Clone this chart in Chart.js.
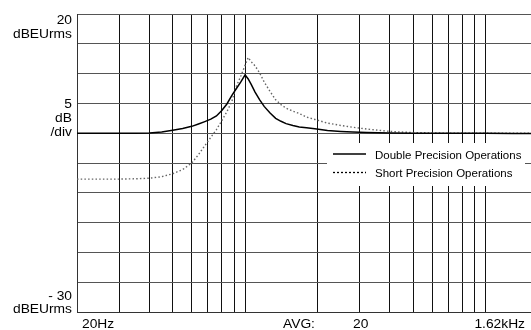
<!DOCTYPE html>
<html lang="en">
<head>
    <meta charset="UTF-8">
    <title>Double vs Short Precision Operations</title>
    <script src="https://cdn.jsdelivr.net/npm/chart.js"></script>
    <style>
        html, body {
            margin: 0;
            padding: 0;
            background: #fff;
            overflow: hidden;
        }
        #chart {
            display: block;
        }
    </style>
</head>
<body>
<canvas id="chart" width="536" height="330"></canvas>

<script>
    // frequency points (Hz) and levels (dBEUrms)
    const freqs = [20, 25, 30, 35, 40, 45, 50, 55, 60, 64, 68, 72, 76, 80, 84, 88, 92, 96, 100, 103,
        106, 110, 115, 120, 127, 134, 141, 148, 158, 168, 180, 195, 220, 250, 280, 320, 400, 500, 700, 1000, 1300, 1620];
    const doublePrec = [0, 0, 0, 0, 0.05, 0.2, 0.5, 0.8, 1.15, 1.55, 1.95, 2.35, 2.9, 3.8, 4.9, 6.3, 7.5, 8.6, 9.8, 9.1,
        8.2, 6.9, 5.6, 4.5, 3.4, 2.5, 2.0, 1.6, 1.3, 1.05, 0.9, 0.75, 0.45, 0.3, 0.2, 0.12, 0.05, 0, 0, 0, -0.05, -0.05];
    const shortPrec = [-7.7, -7.7, -7.7, -7.65, -7.55, -7.3, -6.8, -6.1, -5.0, -3.6, -2.1, -0.7, 0.6, 2.1, 3.6, 5.3, 7.9, 9.6, 11.4, 12.7,
        12.0, 11.3, 10.1, 8.6, 7.0, 5.6, 4.8, 4.2, 3.7, 3.3, 2.7, 2.3, 1.7, 1.3, 1.0, 0.7, 0.3, 0.1, 0, 0, 0, 0];

    const seriesNames = ['Double Precision Operations', 'Short Precision Operations'];

    // vertical grid lines (Hz)
    const freqGrid = [20, 30, 40, 50, 60, 70, 80, 90, 100, 200, 300, 400, 500, 600, 700, 800, 900, 1000, 1620];

    // axis texts
    const yLabels = [['20', 'dBEUrms'], ['5', 'dB', '/div'], ['- 30', 'dBEUrms']];
    const xLabels = ['20Hz', 'AVG:', '20', '1.62kHz'];

    const FONT = "'Liberation Sans', Arial, sans-serif";

    function stretchText(ctx, str, x, y, align, size) {
        ctx.save();
        ctx.translate(x, y);
        ctx.scale(1.15, 1);
        ctx.font = size + 'px ' + FONT;
        ctx.textAlign = align;
        ctx.textBaseline = 'alphabetic';
        ctx.fillStyle = '#000';
        ctx.fillText(str, 0, 0);
        ctx.restore();
    }

    // draws the axis texts and the boxed legend inside the plot
    const analyzerText = {
        id: 'analyzerText',
        afterDraw(chart) {
            const ctx = chart.ctx;
            const y = chart.scales.y;
            const area = chart.chartArea;
            const lx = area.left - 5;

            // y labels
            const top = y.getPixelForValue(20);
            yLabels[0].forEach((t, i) => stretchText(ctx, t, lx, top + 9.5 + i * 14, 'right', 12));
            const mid = y.getPixelForValue(5);
            yLabels[1].forEach((t, i) => stretchText(ctx, t, lx, mid + 4.5 + i * 14, 'right', 12));
            const bot = y.getPixelForValue(-30);
            yLabels[2].forEach((t, i) => stretchText(ctx, t, lx, bot + 1 - (yLabels[2].length - 1 - i) * 13, 'right', 12));

            // x labels
            const by = area.bottom + 16;
            stretchText(ctx, xLabels[0], area.left + 5, by, 'left', 12);
            stretchText(ctx, xLabels[1], 283, by, 'left', 12);
            stretchText(ctx, xLabels[2], 353, by, 'left', 12);
            stretchText(ctx, xLabels[3], 525, by, 'right', 12);

            // legend
            ctx.save();
            ctx.fillStyle = '#fff';
            ctx.fillRect(327, 143, 198, 43);
            chart.data.datasets.forEach((ds, i) => {
                const ly = 154 + i * 18.5;
                ctx.beginPath();
                ctx.strokeStyle = '#000';
                ctx.lineWidth = 1.3;
                ctx.setLineDash(i === 0 ? [] : [2, 2]);
                ctx.moveTo(333, ly);
                ctx.lineTo(366, ly);
                ctx.stroke();
                ctx.setLineDash([]);
                stretchText(ctx, ds.label, 375, ly + 4.5, 'left', 10);
            });
            ctx.restore();
        }
    };

    const config = {
        type: 'line',
        data: {
            datasets: [
                {
                    label: seriesNames[0],
                    data: freqs.map((f, i) => ({x: f, y: doublePrec[i]})),
                    borderColor: '#000',
                    borderWidth: 1.5,
                    pointRadius: 0,
                    tension: 0
                },
                {
                    label: seriesNames[1],
                    data: freqs.map((f, i) => ({x: f, y: shortPrec[i]})),
                    borderColor: '#666',
                    borderWidth: 1.4,
                    borderDash: [1.5, 2.2],
                    pointRadius: 0,
                    tension: 0
                }
            ]
        },
        options: {
            responsive: false,
            animation: false,
            events: [],
            layout: {
                padding: {left: 77, top: 14, right: 0, bottom: 18}
            },
            plugins: {
                legend: {display: false},
                tooltip: {enabled: false}
            },
            scales: {
                x: {
                    type: 'logarithmic',
                    min: 20,
                    max: 1620,
                    afterBuildTicks: axis => {
                        axis.ticks = freqGrid.map(v => ({value: v}));
                    },
                    ticks: {display: false},
                    grid: {color: '#111', lineWidth: 1, drawTicks: false},
                    border: {color: '#333', width: 1}
                },
                y: {
                    type: 'linear',
                    min: -30,
                    max: 20,
                    ticks: {display: false, stepSize: 5},
                    grid: {color: '#555', lineWidth: 1, drawTicks: false},
                    border: {color: '#333', width: 1}
                }
            }
        },
        plugins: [analyzerText]
    };

    new Chart(document.getElementById('chart').getContext('2d'), config);
</script>
</body>
</html>
